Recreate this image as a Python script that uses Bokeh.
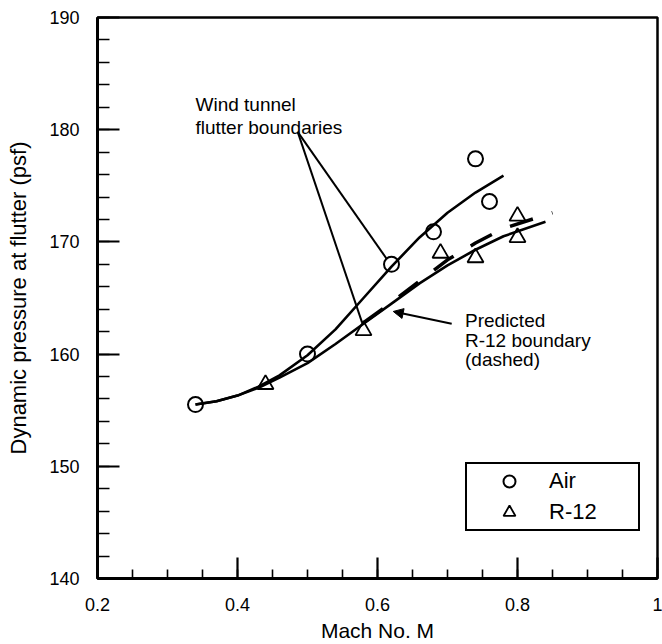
from bokeh.plotting import figure
from bokeh.models import (Range1d, SingleIntervalTicker, Legend, LegendItem, Label,
                          Arrow, NormalHead, CustomJSTickFormatter)
from bokeh.embed import file_html
from bokeh.resources import INLINE

FONT = "Liberation Sans"

# measured data points
air_mach = [0.34, 0.50, 0.62, 0.68, 0.74, 0.76]
air_q = [155.5, 160.0, 168.0, 170.9, 177.4, 173.6]
r12_mach = [0.44, 0.58, 0.69, 0.74, 0.80, 0.80]
r12_q = [157.3, 162.1, 169.0, 168.6, 172.3, 170.4]

# wind-tunnel flutter boundaries (faired curves)
air_curve_mach = [0.34, 0.37, 0.40, 0.43, 0.46, 0.50, 0.54, 0.58, 0.62, 0.66, 0.70, 0.74, 0.78]
air_curve_q = [155.5, 155.8, 156.3, 157.1, 158.1, 159.9, 162.2, 165.0, 167.8, 170.4, 172.6, 174.4, 175.9]
r12_curve_mach = [0.34, 0.37, 0.40, 0.43, 0.46, 0.50, 0.54, 0.58, 0.62, 0.66, 0.70, 0.74, 0.78, 0.84]
r12_curve_q = [155.5, 155.8, 156.3, 157.0, 157.9, 159.2, 160.9, 162.7, 164.5, 166.3, 167.9, 169.3, 170.5, 171.8]

# predicted R-12 boundary (dashed)
pred_mach = [0.58, 0.62, 0.66, 0.70, 0.74, 0.78, 0.85]
pred_q = [162.8, 164.6, 166.5, 168.4, 169.9, 171.2, 172.6]

p = figure(width=662, height=644, x_range=Range1d(0.2, 1.0), y_range=Range1d(140, 190),
           output_backend="svg", toolbar_location=None,
           min_border_left=97, min_border_right=5, min_border_top=17, min_border_bottom=66)
p.background_fill_color = "white"
p.border_fill_color = "white"
p.outline_line_color = "black"
p.outline_line_width = 2.5
p.xgrid.visible = False
p.ygrid.visible = False

p.xaxis.ticker = SingleIntervalTicker(interval=0.2, num_minor_ticks=4)
p.yaxis.ticker = SingleIntervalTicker(interval=10, num_minor_ticks=5)
p.xaxis.formatter = CustomJSTickFormatter(code="return tick > 0.999 ? '1' : tick.toFixed(1);")

for ax in (p.xaxis[0], p.yaxis[0]):
    ax.axis_line_color = "black"
    ax.axis_line_width = 3
    ax.major_tick_out = 0
    ax.minor_tick_out = 0
    ax.major_tick_line_width = 2.2
    ax.minor_tick_line_width = 1.6
    ax.major_label_text_font = FONT
    ax.major_label_text_font_size = "18px"
    ax.major_label_text_color = "black"
    ax.axis_label_text_font = FONT
    ax.axis_label_text_font_style = "normal"
    ax.axis_label_text_color = "black"

p.xaxis.major_tick_in = 21
p.xaxis.minor_tick_in = 9
p.yaxis.major_tick_in = 22
p.yaxis.minor_tick_in = 12
p.xaxis.axis_label = "Mach No. M"
p.yaxis.axis_label = "Dynamic pressure at flutter (psf)"
p.xaxis.axis_label_text_font_size = "21px"
p.yaxis.axis_label_text_font_size = "22px"
p.xaxis.major_label_standoff = 19
p.xaxis.axis_label_standoff = 5
p.yaxis.major_label_standoff = 18
p.yaxis.axis_label_standoff = 15

p.line(air_curve_mach, air_curve_q, line_color="black", line_width=2.6, line_join="round")
p.line(r12_curve_mach, r12_curve_q, line_color="black", line_width=2.6, line_join="round")
p.line(pred_mach, pred_q, line_color="black", line_width=3.5, line_dash="24 20")

air_r = p.scatter(air_mach, air_q, marker="circle", size=15, fill_alpha=0,
                  line_color="black", line_width=2)
r12_r = p.scatter(r12_mach, r12_q, marker="triangle", size=16, fill_alpha=0,
                  line_color="black", line_width=1.8)

# annotation leader lines
p.segment(x0=[0.486, 0.486], y0=[179.8, 179.8], x1=[0.613, 0.578], y1=[168.5, 162.8],
          line_color="black", line_width=2)
p.add_layout(Arrow(end=NormalHead(size=10, fill_color="black", line_color="black"),
                   x_start=0.706, y_start=162.7, x_end=0.6225, y_end=163.8,
                   line_color="black", line_width=2))

for txt, x, y in [("Wind tunnel", 0.340, 182.24), ("flutter boundaries", 0.340, 180.2),
                  ("Predicted", 0.725, 162.97), ("R-12 boundary", 0.725, 161.19),
                  ("(dashed)", 0.725, 159.49)]:
    p.add_layout(Label(x=x, y=y, text=txt, text_font=FONT, text_font_size="19px",
                       text_color="black", text_baseline="alphabetic"))

legend = Legend(items=[LegendItem(label="Air", renderers=[air_r]),
                       LegendItem(label="R-12", renderers=[r12_r])],
                location=(368, 47), border_line_color="black", border_line_width=2.5,
                border_line_alpha=1.0,
                background_fill_color="white", background_fill_alpha=1,
                padding=2, spacing=1, glyph_width=80, glyph_height=30,
                label_standoff=0, label_width=87, label_height=30, margin=0,
                label_text_font=FONT, label_text_font_size="22px", label_text_color="black")
p.add_layout(legend)

open("out.html", "w").write(file_html(p, INLINE))
